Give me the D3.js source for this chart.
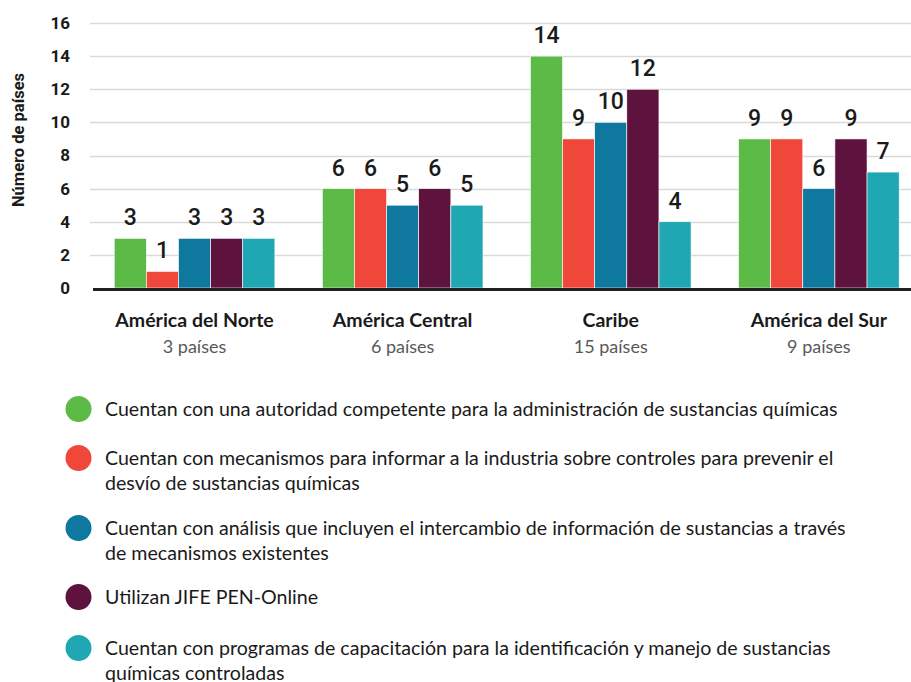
<!DOCTYPE html>
<html>
<head>
<meta charset="utf-8">
<script src="https://cdn.jsdelivr.net/npm/d3@7"></script>
<style>
  body { margin: 0; background: #fff; }
  svg { display: block; }
</style>
</head>
<body>
<div id="chart"></div>
<script>
// data
var regions = ["América del Norte", "América Central", "Caribe", "América del Sur"];
var regionCounts = ["3 países", "6 países", "15 países", "9 países"];
var seriesNames = [
    ["Cuentan con una autoridad competente para la administración de sustancias químicas"],
    ["Cuentan con mecanismos para informar a la industria sobre controles para prevenir el", "desvío de sustancias químicas"],
    ["Cuentan con análisis que incluyen el intercambio de información de sustancias a través", "de mecanismos existentes"],
    ["Utilizan JIFE PEN-Online"],
    ["Cuentan con programas de capacitación para la identificación y manejo de sustancias", "químicas controladas"]
];
var autoridad = [3, 6, 14, 9];
var mecanismos = [1, 6, 9, 9];
var analisis = [3, 5, 10, 6];
var penOnline = [3, 6, 12, 9];
var capacitacion = [3, 5, 4, 7];
var yTicks = [0, 2, 4, 6, 8, 10, 12, 14, 16];
var colors = ["#5cba47", "#ef473a", "#0e789e", "#5e133f", "#1fa8b3"];

var series = [autoridad, mecanismos, analisis, penOnline, capacitacion];

var width = 911, height = 682;

var svg = d3.select("#chart")
    .append("svg")
    .attr("width", width)
    .attr("height", height);

// scales
var x0 = d3.scaleBand()
    .domain(regions)
    .range([90.5, 922.9])
    .paddingInner(0.228)
    .paddingOuter(0.114);

var x1 = d3.scaleBand()
    .domain(d3.range(series.length))
    .range([0, x0.bandwidth()]);

var y = d3.scaleLinear()
    .domain([0, 16])
    .range([288, 23]);

// gridlines
svg.append("g")
    .selectAll("line")
    .data(yTicks.filter(d => d > 0))
    .enter()
    .append("line")
    .attr("x1", 90)
    .attr("x2", width)
    .attr("y1", d => Math.round(y(d)) + 0.5)
    .attr("y2", d => Math.round(y(d)) + 0.5)
    .style("stroke", "#d9d9d9")
    .style("stroke-width", 1.3);

// y axis labels
var yAxis = svg.append("g")
    .attr("transform", "translate(70,0)")
    .call(d3.axisLeft(y).tickValues(yTicks).tickSize(0).tickPadding(0));
yAxis.select(".domain").remove();
yAxis.selectAll("text")
    .style("font-family", "Roboto, sans-serif")
    .style("font-weight", "700")
    .style("font-size", "17px")
    .style("fill", "#1a1a1a");

// y label
svg.append("text")
    .attr("text-anchor", "middle")
    .attr("transform", "translate(24,140) rotate(-90)")
    .style("font-family", "Roboto, sans-serif")
    .style("font-weight", "700")
    .style("font-size", "16.5px")
    .style("fill", "#1a1a1a")
    .text("Número de países");

// bars
var groups = svg.selectAll("g.region")
    .data(regions)
    .enter()
    .append("g")
    .attr("class", "region")
    .attr("transform", d => `translate(${x0(d)},0)`);

groups.selectAll("rect")
    .data((d, i) => series.map((s, k) => ({k: k, v: s[i]})))
    .enter()
    .append("rect")
    .attr("x", d => x1(d.k))
    .attr("width", x1.bandwidth())
    .attr("y", d => y(d.v))
    .attr("height", d => y(0) - y(d.v))
    .style("fill", d => colors[d.k])
    .style("stroke", "#ffffff")
    .style("stroke-width", 0.6);

// value labels
groups.selectAll("text.val")
    .data((d, i) => series.map((s, k) => ({k: k, v: s[i]})))
    .enter()
    .append("text")
    .attr("class", "val")
    .attr("text-anchor", "middle")
    .attr("x", d => x1(d.k) + x1.bandwidth() / 2)
    .attr("y", d => y(d.v) - 13)
    .style("font-family", "Roboto, sans-serif")
    .style("font-weight", "500")
    .style("font-size", "23px")
    .style("fill", "#1a1a1a")
    .text(d => d.v);

// x axis line
svg.append("line")
    .attr("x1", 93)
    .attr("x2", width)
    .attr("y1", 289.5)
    .attr("y2", 289.5)
    .style("stroke", "#231f20")
    .style("stroke-width", 3);

// region labels
groups.append("text")
    .attr("text-anchor", "middle")
    .attr("x", x0.bandwidth() / 2)
    .attr("y", 327)
    .style("font-family", "Lato, sans-serif")
    .style("font-weight", "700")
    .style("font-size", "19.5px")
    .style("fill", "#1a1a1a")
    .text(d => d);

groups.append("text")
    .attr("text-anchor", "middle")
    .attr("x", x0.bandwidth() / 2)
    .attr("y", 353)
    .style("font-family", "Lato, sans-serif")
    .style("font-size", "18px")
    .style("fill", "#595959")
    .text((d, i) => regionCounts[i]);

// legend
var legendY = [409, 458, 528, 597, 648];
var legend = svg.selectAll("g.legend")
    .data(seriesNames)
    .enter()
    .append("g")
    .attr("class", "legend")
    .attr("transform", (d, i) => `translate(0,${legendY[i]})`);

legend.append("circle")
    .attr("cx", 78.5)
    .attr("cy", 0)
    .attr("r", 13)
    .style("fill", (d, i) => colors[i]);

legend.selectAll("text")
    .data(d => d)
    .enter()
    .append("text")
    .attr("x", 105)
    .attr("y", (d, j) => 6.5 + j * 25)
    .style("font-family", "Lato, sans-serif")
    .style("font-size", "19.6px")
    .style("fill", "#1a1a1a")
    .text(d => d);
</script>
</body>
</html>
